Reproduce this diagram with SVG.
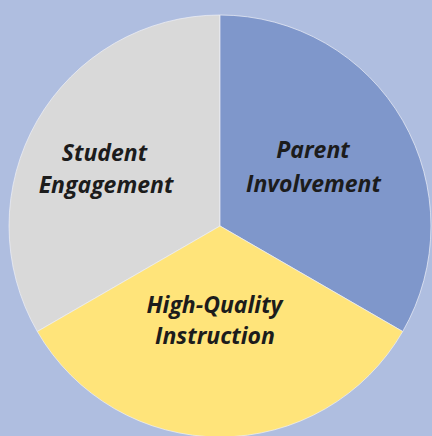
<svg xmlns="http://www.w3.org/2000/svg" width="432" height="436" viewBox="0 0 432 436">
<style>
.slice{stroke:#eef0f6;stroke-width:1;stroke-opacity:0.7}
.lbl{font-family:"Open Sans",Lato,sans-serif;font-weight:bold;font-style:italic;font-size:23px;fill:#1c1c1c;text-anchor:middle}
</style>
<rect x="0" y="0" width="432" height="436" fill="#AFBEE0"/>
<g id="student-engagement">
<path class="slice" d="M220,226 L220,15 A211,211 0 0 0 37.3,331.5 Z" fill="#D9D9D9"/>
<text class="lbl" x="104.5" y="161">Student</text>
<text class="lbl" x="106" y="193">Engagement</text>
</g>
<g id="parent-involvement">
<path class="slice" d="M220,226 L220,15 A211,211 0 0 1 402.7,331.5 Z" fill="#7F97CB"/>
<text class="lbl" x="313" y="158">Parent</text>
<text class="lbl" x="313.5" y="192">Involvement</text>
</g>
<g id="high-quality-instruction">
<path class="slice" d="M220,226 L402.7,331.5 A211,211 0 0 1 37.3,331.5 Z" fill="#FFE47A"/>
<text class="lbl" x="214.5" y="313">High-Quality</text>
<text class="lbl" x="215" y="344">Instruction</text>
</g>
<g id="connectors"></g>
</svg>
